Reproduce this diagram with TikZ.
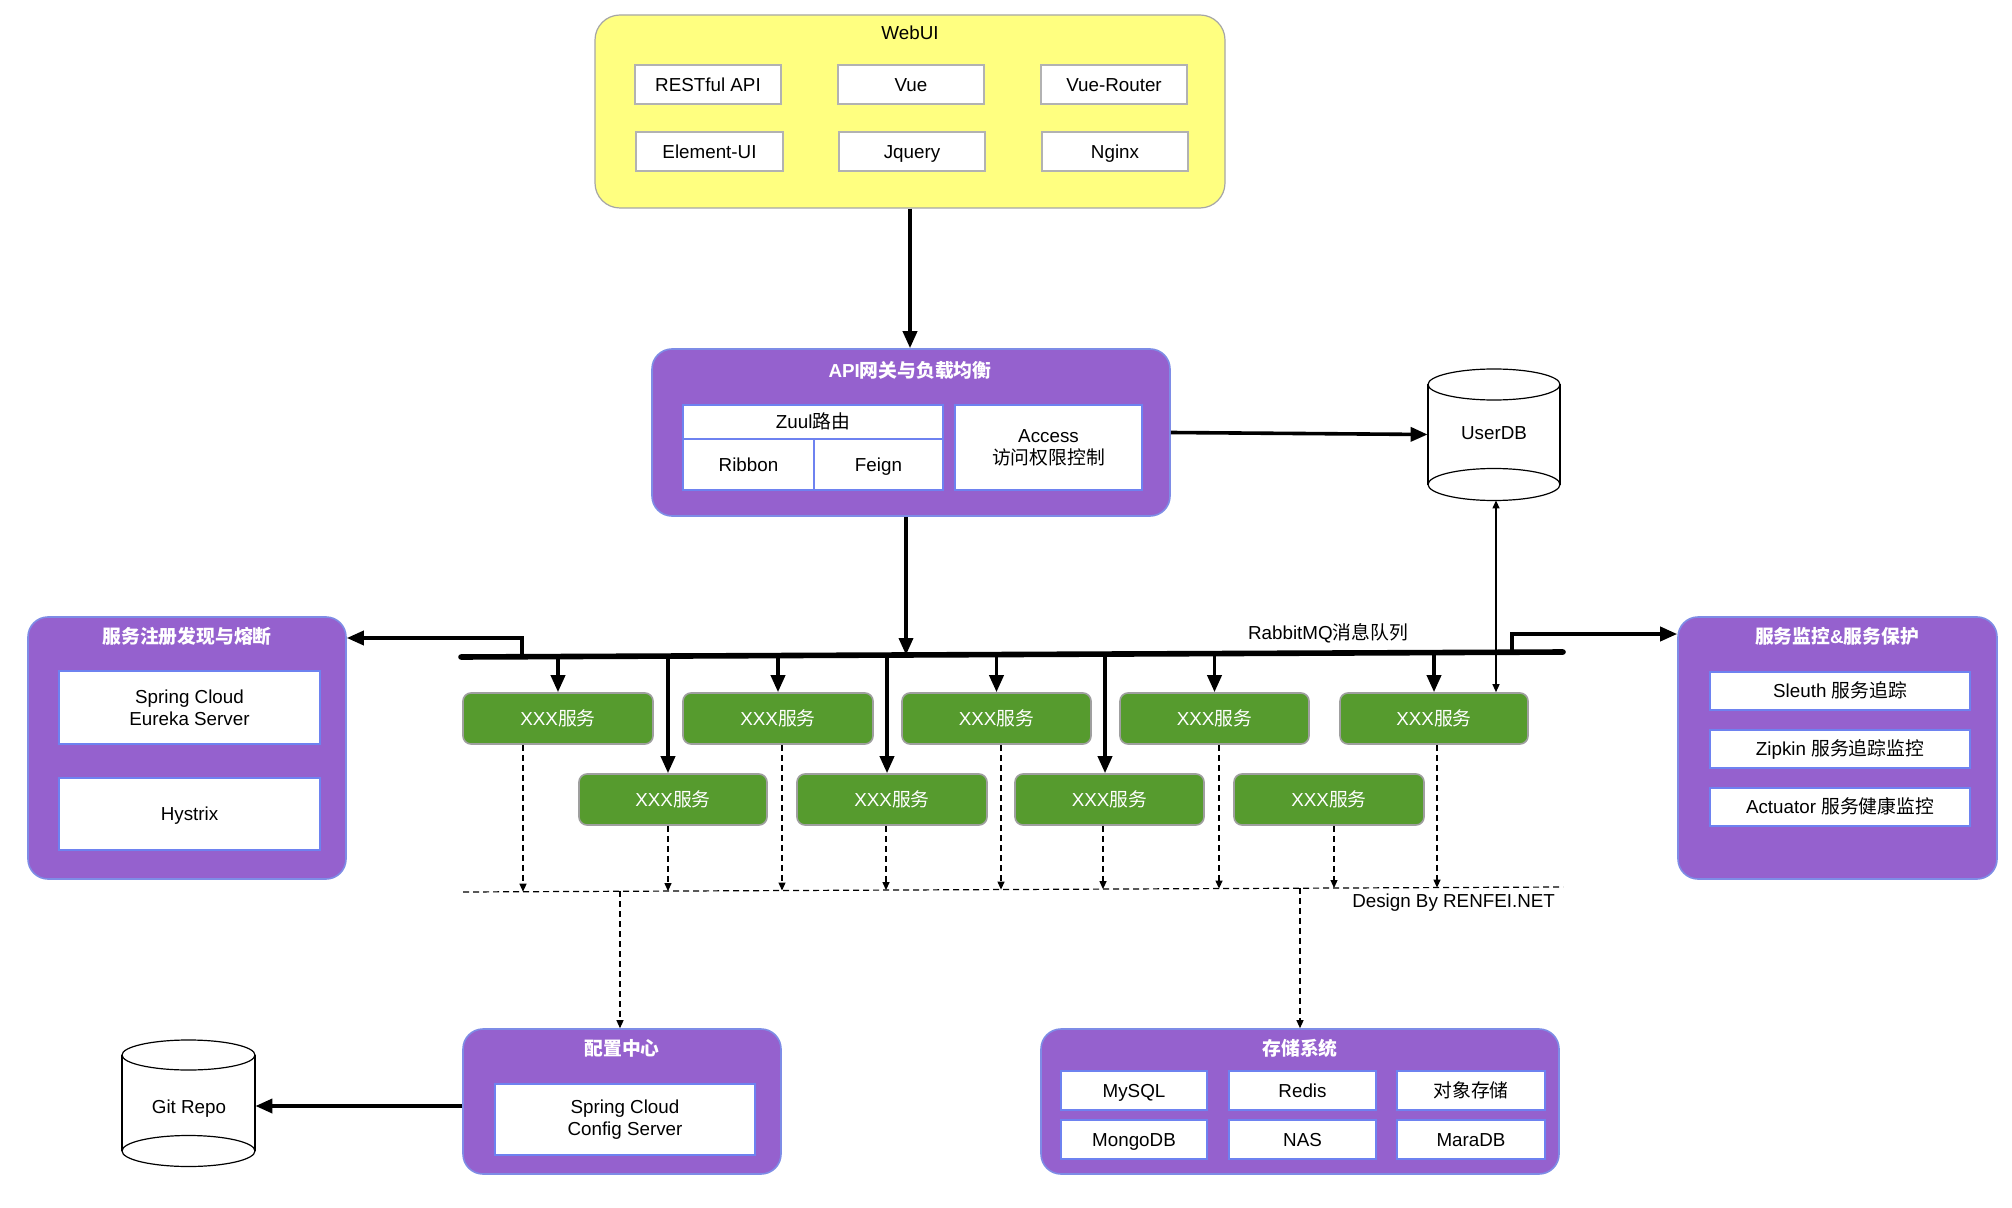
\documentclass[tikz,border=0pt]{standalone}
\usepackage{fontspec}
\setmainfont{Liberation Sans}
\newfontfamily\cjk{Noto Sans CJK SC}
\newcommand\zh[1]{{\cjk #1}}
\usetikzlibrary{arrows.meta,calc}
\definecolor{purp}{RGB}{149,97,206}
\definecolor{pborder}{RGB}{126,140,230}
\definecolor{bluec}{RGB}{110,130,240}
\definecolor{greenc}{RGB}{86,155,46}
\definecolor{yellowc}{RGB}{255,255,128}
% box from corner (x1,y1) to (x2,y2) in pixel units
\newcommand\mybox[6]{\node[#1, minimum width={(#4-#2)*0.5pt}, minimum height={(#5-#3)*0.5pt}] (#6) at ({(#2+#4)/2},{(#3+#5)/2})}
\begin{document}
\begin{tikzpicture}[x=0.5pt,y=-0.5pt,
  every node/.style={font=\fontsize{9.4}{11}\selectfont},
  fbox/.style={inner sep=0pt, align=center},
  oneline/.style={text height=6.7pt, text depth=0pt},
  ybox/.style={fbox, draw=gray!70, fill=yellowc, rounded corners=12.5pt, line width=0.6pt},
  pbox/.style={fbox, draw=pborder, fill=purp, rounded corners=10pt, line width=0.8pt},
  wbox/.style={fbox, oneline, draw=gray!60, fill=white, line width=0.6pt},
  bboxm/.style={fbox, draw=bluec, fill=white, line width=0.6pt},
  bbox/.style={bboxm, oneline},
  gbox/.style={fbox, oneline, draw=gray!75, fill=greenc, rounded corners=4pt, text=white, line width=0.8pt},
  ptitle/.style={text=white, font=\fontsize{9.4}{11}\selectfont\bfseries},
  bigarrow/.style={line width=1.8pt, -{Triangle[length=8.5pt,width=7pt]}},
  dasharrow/.style={line width=0.6pt, dash pattern=on 3pt off 2pt, -{Triangle[length=4pt,width=3.5pt]}},
  dashline/.style={line width=0.6pt, dash pattern=on 3pt off 2pt},
  cyl/.style={line width=0.6pt, draw=black, fill=white}
]
\useasboundingbox[fill=white] (0,0) rectangle (2012,1208);

% ---------- WebUI ----------
\mybox{ybox}{595}{15}{1225}{208}{webui} {};
\node at (910,33) (webuiT) {WebUI};
\mybox{wbox}{635}{65}{781}{104}{rest} {RESTful API};
\mybox{wbox}{838}{65}{984}{104}{vue} {Vue};
\mybox{wbox}{1041}{65}{1187}{104}{vuer} {Vue-Router};
\mybox{wbox}{636}{132}{783}{171}{elem} {Element-UI};
\mybox{wbox}{839}{132}{985}{171}{jq} {Jquery};
\mybox{wbox}{1042}{132}{1188}{171}{ngx} {Nginx};

% ---------- API gateway ----------
\mybox{pbox}{652}{349}{1170}{516}{api} {};
\node[ptitle] at (910,370) (apiT) {API\zh{网关与负载均衡}};
\mybox{bbox}{683}{405}{943}{439}{zuul} {Zuul\zh{路由}};
\mybox{bbox}{683}{439}{814}{490}{ribbon} {Ribbon};
\mybox{bbox}{814}{439}{943}{490}{feign} {Feign};
\mybox{bboxm}{955}{405}{1142}{490}{access} {Access\\\zh{访问权限控制}};

% ---------- UserDB ----------
\mybox{fbox}{1428}{369}{1560}{500}{userdb} {};
\fill[white] (1428,384.5) rectangle (1560,484.5);
\draw[cyl] (1494,484.5) ellipse [x radius=33pt, y radius=8pt];
\draw[cyl] (1494,384.5) ellipse [x radius=33pt, y radius=7.75pt];
\draw[line width=0.6pt] (1428,384.5) -- (1428,484.5) (1560,384.5) -- (1560,484.5);
\node at (1494,433) (userdbT) {UserDB};

% ---------- Git Repo ----------
\mybox{fbox}{122}{1040}{255}{1166}{git} {};
\fill[white] (122,1055) rectangle (255,1151);
\draw[cyl] (188.5,1151) ellipse [x radius=33.25pt, y radius=7.75pt];
\draw[cyl] (188.5,1055) ellipse [x radius=33.25pt, y radius=7.5pt];
\draw[line width=0.6pt] (122,1055) -- (122,1151) (255,1055) -- (255,1151);
\node at (189,1109) (gitT) {Git Repo};

% ---------- Registry ----------
\mybox{pbox}{28}{617}{346}{879}{reg} {};
\node[ptitle] at (187,636) (regT) {\zh{服务注册发现与熔断}};
\mybox{bboxm}{59}{671}{320}{744}{eureka} {Spring Cloud\\Eureka Server};
\mybox{bbox}{59}{778}{320}{850}{hystrix} {Hystrix};

% ---------- Monitoring ----------
\mybox{pbox}{1678}{617}{1997}{879}{mon} {};
\node[ptitle] at (1837,636) (monT) {\zh{服务监控}\&\zh{服务保护}};
\mybox{bbox}{1710}{672}{1970}{710}{sleuth} {Sleuth \zh{服务追踪}};
\mybox{bbox}{1710}{730}{1970}{768}{zipkin} {Zipkin \zh{服务追踪监控}};
\mybox{bbox}{1710}{788}{1970}{826}{actuator} {Actuator \zh{服务健康监控}};

% ---------- Config ----------
\mybox{pbox}{463}{1029}{781}{1174}{cfg} {};
\node[ptitle] at (622,1048) (cfgT) {\zh{配置中心}};
\mybox{bboxm}{495}{1084}{755}{1155}{cfgsrv} {Spring Cloud\\Config Server};

% ---------- Storage ----------
\mybox{pbox}{1041}{1029}{1559}{1174}{sto} {};
\node[ptitle] at (1300,1048) (stoT) {\zh{存储系统}};
\mybox{bbox}{1061}{1071}{1207}{1110}{mysql} {MySQL};
\mybox{bbox}{1229}{1071}{1376}{1110}{redis} {Redis};
\mybox{bbox}{1397}{1071}{1545}{1110}{oss} {\zh{对象存储}};
\mybox{bbox}{1061}{1120}{1207}{1159}{mongo} {MongoDB};
\mybox{bbox}{1229}{1120}{1376}{1159}{nas} {NAS};
\mybox{bbox}{1397}{1120}{1545}{1159}{mara} {MaraDB};

% ---------- Services ----------
\mybox{gbox}{463}{693}{653}{744}{s1} {XXX\zh{服务}};
\mybox{gbox}{683}{693}{873}{744}{s2} {XXX\zh{服务}};
\mybox{gbox}{902}{693}{1091}{744}{s3} {XXX\zh{服务}};
\mybox{gbox}{1120}{693}{1309}{744}{s4} {XXX\zh{服务}};
\mybox{gbox}{1340}{693}{1528}{744}{s5} {XXX\zh{服务}};
\mybox{gbox}{579}{774}{767}{825}{t1} {XXX\zh{服务}};
\mybox{gbox}{797}{774}{987}{825}{t2} {XXX\zh{服务}};
\mybox{gbox}{1015}{774}{1204}{825}{t3} {XXX\zh{服务}};
\mybox{gbox}{1234}{774}{1424}{825}{t4} {XXX\zh{服务}};

% ---------- bus ----------
\coordinate (busL) at (461,657);
\coordinate (busR) at (1563,652);
\draw[line width=2.8pt, line cap=round] (busL) -- (busR);
\node at (1328,633) (mqT) {RabbitMQ\zh{消息队列}};

% ---------- connectors ----------
\draw[bigarrow] (webui.south) -- (webui.south |- api.north);
\draw[bigarrow] (api.east) -- (userdb.west);
\coordinate (bA) at (906,655);
\draw[bigarrow] (api.south -| bA) -- (bA);

\coordinate (bL) at (522,656.7);
\coordinate (bLt) at (522,638);
\draw[bigarrow] (bL) -- (bLt) -- (reg.east |- bLt);
\coordinate (bR) at (1512,652.2);
\coordinate (bRt) at (1512,634);
\draw[bigarrow] (bR) -- (bRt) -- (mon.west |- bRt);

\draw[bigarrow] (s1.north |- 0,656.6) -- (s1.north);
\draw[bigarrow] (s2.north |- 0,655.6) -- (s2.north);
\draw[bigarrow] (s3.north |- 0,654.6) -- (s3.north);
\draw[bigarrow] (s4.north |- 0,653.6) -- (s4.north);
\draw[bigarrow] (s5.north |- 0,652.6) -- (s5.north);

\draw[bigarrow] (668,656.1) -- (668,0 |- t1.north);
\draw[bigarrow] (887,655.1) -- (887,0 |- t2.north);
\draw[bigarrow] (1105,654.1) -- (1105,0 |- t3.north);

\draw[line width=0.6pt, {Triangle[length=4pt,width=3.5pt]}-{Triangle[length=4pt,width=3.5pt]}]
  (1496,0 |- userdb.south) -- (1496,0 |- s5.north);

% dashed collector line
\coordinate (dL) at (463,892);
\coordinate (dR) at (1563,887);
\draw[dashline] (dL) -- (dR);
\draw[dasharrow] (523,0 |- s1.south) -- (523,891.7);
\draw[dasharrow] (668,0 |- t1.south) -- (668,891.1);
\draw[dasharrow] (782,0 |- s2.south) -- (782,890.5);
\draw[dasharrow] (886,0 |- t2.south) -- (886,890.1);
\draw[dasharrow] (1001,0 |- s3.south) -- (1001,889.6);
\draw[dasharrow] (1103,0 |- t3.south) -- (1103,889.1);
\draw[dasharrow] (1219,0 |- s4.south) -- (1219,888.6);
\draw[dasharrow] (1334,0 |- t4.south) -- (1334,888.0);
\draw[dasharrow] (1437,0 |- s5.south) -- (1437,887.6);

\coordinate (dC) at (620,891.3);
\draw[dasharrow] (dC) -- (dC |- cfg.north);
\coordinate (dS) at (1300,888.2);
\draw[dasharrow] (dS) -- (dS |- sto.north);

\node[anchor=east] at (1562,903) (design) {Design By RENFEI.NET};

\draw[bigarrow] (cfg.west |- 0,1106) -- (git.east |- 0,1106);
\end{tikzpicture}
\end{document}
